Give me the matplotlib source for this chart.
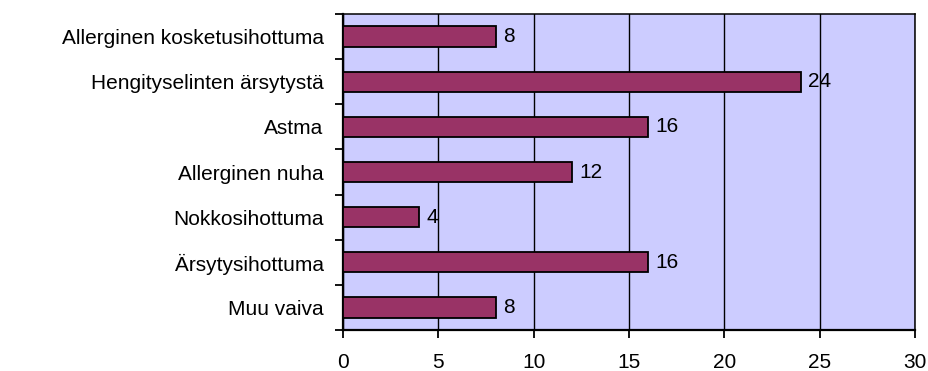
import matplotlib
matplotlib.use("Agg")
import matplotlib.pyplot as plt
import numpy as np

categories = ["Allerginen kosketusihottuma", "Hengityselinten ärsytystä", "Astma",
              "Allerginen nuha", "Nokkosihottuma", "Ärsytysihottuma", "Muu vaiva"]
values = [8, 24, 16, 12, 4, 16, 8]
xticks = [0, 5, 10, 15, 20, 25, 30]

plt.rcParams['font.family'] = ['Liberation Sans', 'DejaVu Sans']
FS = 15

fig = plt.figure(figsize=(9.29, 3.71), dpi=100)
ax = fig.add_axes([343/929, 1-330/371, (915-343)/929, (330-14)/371])
ax.set_facecolor('#CCCCFF')

n = len(categories)
ypos = np.arange(n)[::-1]
ax.barh(ypos, values, height=0.45, color='#993366', edgecolor='black', linewidth=1.3, zorder=3)
for y, v in zip(ypos, values):
    ax.text(v + 0.4, y, str(v), va='center', ha='left', fontsize=FS, zorder=4)

ax.set_xlim(0, 30)
ax.set_ylim(-0.5, n - 0.5)
ax.set_xticks(xticks)
ax.set_xticklabels([str(t) for t in xticks], fontsize=FS)
ax.xaxis.grid(True, color='black', linewidth=1.0, zorder=1)
ax.set_axisbelow(True)

ax.set_yticks(ypos)
ax.set_yticklabels(categories, fontsize=FS)
ax.tick_params(axis='y', length=0, pad=14)
ax.set_yticks(np.arange(-0.5, n, 1.0), minor=True)
ax.tick_params(axis='y', which='minor', length=5.5, width=1.3, direction='out')
ax.tick_params(axis='x', length=5.5, width=1.3, direction='out', pad=11)

for s in ax.spines.values():
    s.set_color('black')
    s.set_linewidth(1.1)
ax.spines['left'].set_linewidth(1.6)
ax.spines['bottom'].set_linewidth(1.6)

fig.savefig('out.png', dpi=100)
